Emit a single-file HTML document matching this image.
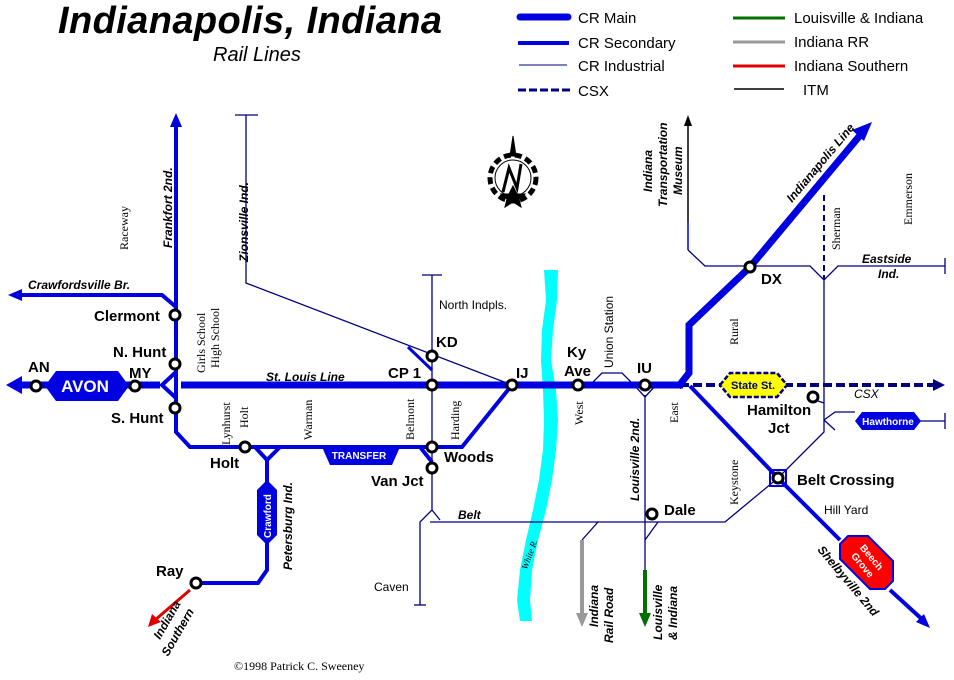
<!DOCTYPE html>
<html><head><meta charset="utf-8"><style>
html,body{margin:0;padding:0;background:#fff;}
svg{display:block;}
.st{font-family:"Liberation Sans",sans-serif;font-weight:bold;font-size:15px;fill:#000;}
.sr{font-family:"Liberation Serif",serif;font-size:12px;fill:#000;}
.bi{font-family:"Liberation Sans",sans-serif;font-weight:bold;font-style:italic;font-size:12px;fill:#000;}
.lg{font-family:"Liberation Sans",sans-serif;font-size:15px;fill:#000;}
.sm{font-family:"Liberation Sans",sans-serif;font-size:12px;fill:#000;}
</style></head><body>
<svg width="954" height="680" viewBox="0 0 954 680" xmlns="http://www.w3.org/2000/svg">
<rect width="954" height="680" fill="#fff"/>
<!-- title -->
<text x="58" y="33" font-family="Liberation Sans,sans-serif" font-weight="bold" font-style="italic" font-size="38" textLength="384">Indianapolis, Indiana</text>
<text x="213" y="61" font-family="Liberation Sans,sans-serif" font-style="italic" font-size="20">Rail Lines</text>
<!-- legend -->
<line x1="520" y1="17" x2="568" y2="17" stroke="#0000e0" stroke-width="7" stroke-linecap="round"/>
<line x1="518" y1="43" x2="569" y2="43" stroke="#0000e0" stroke-width="4"/>
<line x1="519" y1="65" x2="567" y2="65" stroke="#000080" stroke-width="1"/>
<line x1="518" y1="90" x2="570" y2="90" stroke="#000080" stroke-width="3" stroke-dasharray="8,3"/>
<text x="578" y="23" class="lg">CR Main</text>
<text x="578" y="48" class="lg">CR Secondary</text>
<text x="578" y="71" class="lg">CR Industrial</text>
<text x="578" y="96" class="lg">CSX</text>
<line x1="733" y1="18" x2="785" y2="18" stroke="#007000" stroke-width="3"/>
<line x1="733" y1="42" x2="785" y2="42" stroke="#999" stroke-width="3"/>
<line x1="733" y1="66" x2="785" y2="66" stroke="#e00000" stroke-width="3"/>
<line x1="734" y1="89" x2="784" y2="89" stroke="#000" stroke-width="1.5"/>
<text x="794" y="23" class="lg">Louisville &amp; Indiana</text>
<text x="794" y="47" class="lg">Indiana RR</text>
<text x="794" y="71" class="lg">Indiana Southern</text>
<text x="803" y="95" class="lg">ITM</text>
<!-- compass -->
<g transform="translate(513,178)" stroke="#000" fill="none">
<circle r="23" stroke-width="5" stroke-dasharray="7,4"/>
<circle r="18" stroke-width="1"/>
<polyline points="-10,14 -4,-10 4,10 8,-14" stroke-width="3"/>
<polygon points="0,-42 3,-22 -3,-22" fill="#000"/>
<polygon points="0,8 4,16 12,16 6,21 8,29 0,24 -8,29 -6,21 -12,16 -4,16" fill="#000"/>
</g>
<!-- river -->
<polygon points="544,270 558,270 557,300 553,330 551,360 556,390 558,420 556,450 552,480 546,510 538,540 532,570 530,600 532,621 520,621 517,600 520,570 526,540 533,510 539,480 543,450 544,420 543,390 541,360 542,330 546,300" fill="#00ffff"/>
<text transform="translate(527,570) rotate(-70)" font-family="Liberation Serif,serif" font-style="italic" font-size="9">White R.</text>
<!-- industrial lines -->
<g stroke="#000080" stroke-width="1.3" fill="none">
<polyline points="235,115 258,115"/>
<polyline points="246,115 246,283 512,385"/>
<polyline points="422,275 442,275"/>
<polyline points="432,275 432,510 420,522 420,605"/>
<line x1="414" y1="605" x2="426" y2="605"/>
<line x1="432" y1="510" x2="440" y2="520"/>
<polyline points="430,522 725,522 778,478"/>
<polyline points="582,540 598,522"/>
<polyline points="645,395 645,570"/>
<polyline points="645,540 658,522"/>
<polyline points="634,385 645,397 656,385"/>
<polyline points="590,385 602,373 622,373 634,385"/>
<polyline points="688,250 705,266 810,266 824,280 838,266 945,266"/>
<line x1="945" y1="258" x2="945" y2="274"/>
<polyline points="824,280 824,432 778,478"/>
<polyline points="824,420 835,412 855,412"/>
<polyline points="824,420 835,430"/>
<line x1="920" y1="421" x2="945" y2="421"/>
<line x1="945" y1="413" x2="945" y2="429"/>
<line x1="815" y1="400" x2="824" y2="403"/>
</g>
<!-- ITM -->
<line x1="688" y1="250" x2="688" y2="222" stroke="#0000e0" stroke-width="1.5"/>
<line x1="688" y1="222" x2="688" y2="125" stroke="#000" stroke-width="1.5"/>
<polygon points="688,115 684,126 692,126" fill="#000"/>
<!-- Sherman dashed -->
<line x1="824" y1="195" x2="824" y2="280" stroke="#000080" stroke-width="2" stroke-dasharray="6,4"/>
<!-- CSX -->
<line x1="680" y1="385" x2="935" y2="385" stroke="#000080" stroke-width="4" stroke-dasharray="9,4"/>
<polygon points="945,385 933,379 933,391" fill="#000080"/>
<!-- secondary lines -->
<g stroke="#0000e0" stroke-width="4" fill="none">
<polyline points="176,125 176,432 190,447 462,447 512,385"/>
<polyline points="176,307 162,295 20,295"/>
<polyline points="690,386 778,478 840,540"/>
<polyline points="890,590 925,622"/>
<polyline points="420,447 432,462"/>
<polyline points="255,447 267,460 280,447"/>
<polyline points="267,460 267,570 258,583 196,583"/>
<polyline points="176,372 162,385 176,398"/>
</g>
<polygon points="176,113 170,127 182,127" fill="#0000e0"/>
<polygon points="8,295 22,289 22,301" fill="#0000e0"/>
<polygon points="930,628 916,622 924,614" fill="#0000e0"/>
<!-- red indiana southern -->
<line x1="190" y1="590" x2="155" y2="620" stroke="#e00000" stroke-width="3"/>
<polygon points="148,627 152,614 161,622" fill="#e00000"/>
<!-- gray, green -->
<line x1="582" y1="540" x2="582" y2="615" stroke="#999" stroke-width="4"/>
<polygon points="582,627 576,613 588,613" fill="#999"/>
<line x1="645" y1="570" x2="645" y2="615" stroke="#007000" stroke-width="4"/>
<polygon points="645,627 639,613 651,613" fill="#007000"/>
<!-- main lines -->
<g stroke="#0000e0" stroke-width="7" fill="none">
<line x1="22" y1="385" x2="160" y2="385"/>
<line x1="181" y1="385" x2="683" y2="385"/>
<polyline points="678,387 689,373 689,325 750,267 862,133"/>
<line x1="408" y1="347" x2="432" y2="370" stroke-width="3"/>
</g>
<polygon points="872,122 852,130 864,141" fill="#0000e0"/>
<polygon points="6,385 22,376 22,394" fill="#0000e0"/>
<!-- AVON -->
<polygon points="45,386 56,371 118,371 129,386 118,401 56,401" fill="#0000e0"/>
<text x="85" y="392" text-anchor="middle" font-family="Liberation Sans,sans-serif" font-weight="bold" font-size="17" fill="#fff">AVON</text>
<!-- TRANSFER -->
<polygon points="322,447 400,447 392,465 330,465" fill="#0000e0"/>
<text x="359" y="459" text-anchor="middle" font-family="Liberation Sans,sans-serif" font-weight="bold" font-size="10" fill="#fff">TRANSFER</text>
<!-- Crawford -->
<polygon points="267,480 277,490 277,535 267,545 257,535 257,490" fill="#0000e0"/>
<text transform="translate(271,538) rotate(-90)" font-family="Liberation Sans,sans-serif" font-weight="bold" font-size="10" fill="#fff">Crawford</text>
<!-- State St -->
<polygon points="720,385 730,373 777,373 787,385 777,397 730,397" fill="#ffff00" stroke="#000080" stroke-width="2.5" stroke-dasharray="5,2"/>
<text x="753" y="389" text-anchor="middle" font-family="Liberation Sans,sans-serif" font-weight="bold" font-size="11" fill="#000080">State St.</text>
<!-- Hawthorne -->
<polygon points="855,421 862,412 914,412 921,421 914,430 862,430" fill="#0000e0"/>
<text x="888" y="425" text-anchor="middle" font-family="Liberation Sans,sans-serif" font-weight="bold" font-size="10" fill="#fff">Hawthorne</text>
<!-- Beech Grove -->
<polygon points="848,536 868,536 893,561 893,581 885,589 870,589 840,559 840,544" fill="#ff0000" stroke="#0000e0" stroke-width="2"/>
<text transform="translate(866,562) rotate(50)" text-anchor="middle" font-family="Liberation Sans,sans-serif" font-weight="bold" font-size="10" fill="#fff"><tspan x="0" dy="-4">Beech</tspan><tspan x="0" dy="12">Grove</tspan></text>
<!-- Belt crossing square -->
<rect x="770" y="470" width="16" height="16" fill="none" stroke="#0000e0" stroke-width="2"/>
<!-- stations -->
<g fill="#fff" stroke="#000" stroke-width="3">
<circle cx="36" cy="386" r="5"/><circle cx="135" cy="386" r="5"/>
<circle cx="175" cy="315" r="5"/><circle cx="175" cy="364" r="5"/><circle cx="175" cy="408" r="5"/>
<circle cx="245" cy="447" r="5"/><circle cx="432" cy="447" r="5"/><circle cx="432" cy="468" r="5"/>
<circle cx="432" cy="385" r="5"/><circle cx="432" cy="356" r="5"/><circle cx="512" cy="385" r="5"/>
<circle cx="578" cy="385" r="5"/><circle cx="645" cy="385" r="5"/><circle cx="750" cy="267" r="5"/>
<circle cx="813" cy="397" r="5"/><circle cx="778" cy="478" r="5"/><circle cx="652" cy="514" r="5"/>
<circle cx="196" cy="583" r="5"/>
</g>
<!-- station labels -->
<text x="28" y="372" class="st">AN</text>
<text x="129" y="378" class="st">MY</text>
<text x="94" y="321" class="st">Clermont</text>
<text x="113" y="357" class="st">N. Hunt</text>
<text x="111" y="423" class="st">S. Hunt</text>
<text x="210" y="468" class="st">Holt</text>
<text x="388" y="378" class="st">CP 1</text>
<text x="436" y="347" class="st">KD</text>
<text x="516" y="378" class="st">IJ</text>
<text x="567" y="357" class="st">Ky</text>
<text x="564" y="376" class="st">Ave</text>
<text x="637" y="373" class="st" font-size="17">IU</text>
<text x="444" y="462" class="st">Woods</text>
<text x="371" y="486" class="st">Van Jct</text>
<text x="761" y="284" class="st">DX</text>
<text x="747" y="415" class="st">Hamilton</text>
<text x="768" y="433" class="st">Jct</text>
<text x="797" y="485" class="st">Belt Crossing</text>
<text x="664" y="515" class="st">Dale</text>
<text x="156" y="576" class="st">Ray</text>
<!-- italic bold labels -->
<text x="28" y="289" class="bi">Crawfordsville Br.</text>
<text x="266" y="381" class="bi">St. Louis Line</text>
<text x="458" y="519" class="bi">Belt</text>
<text x="854" y="398" font-family="Liberation Sans,sans-serif" font-style="italic" font-size="12">CSX</text>
<text x="862" y="263" class="bi">Eastside</text>
<text x="878" y="278" class="bi">Ind.</text>
<text transform="translate(172,248) rotate(-90)" class="bi" font-size="13">Frankfort 2nd.</text>
<text transform="translate(248,262) rotate(-90)" class="bi">Zionsville Ind.</text>
<text transform="translate(292,570) rotate(-90)" class="bi">Petersburg Ind.</text>
<text transform="translate(639,501) rotate(-90)" class="bi">Louisville 2nd.</text>
<text transform="translate(652,192) rotate(-90)" class="bi">Indiana</text>
<text transform="translate(667,207) rotate(-90)" class="bi">Transportation</text>
<text transform="translate(682,195) rotate(-90)" class="bi">Museum</text>
<text transform="translate(792,203) rotate(-50)" class="bi">Indianapolis Line</text>
<text transform="translate(598,627) rotate(-90)" class="bi">Indiana</text>
<text transform="translate(613,643) rotate(-90)" class="bi">Rail Road</text>
<text transform="translate(662,640) rotate(-90)" class="bi">Louisville</text>
<text transform="translate(677,640) rotate(-90)" class="bi">&amp; Indiana</text>
<text transform="translate(160,640) rotate(-60)" class="bi">Indiana</text>
<text transform="translate(168,657) rotate(-60)" class="bi">Southern</text>
<text transform="translate(817,550) rotate(50)" class="bi">Shelbyville 2nd</text>
<!-- serif street labels -->
<text transform="translate(128,250) rotate(-90)" class="sr">Raceway</text>
<text transform="translate(205,373) rotate(-90)" class="sr">Girls School</text>
<text transform="translate(219,368) rotate(-90)" class="sr">High School</text>
<text transform="translate(230,445) rotate(-90)" class="sr">Lynhurst</text>
<text transform="translate(248,428) rotate(-90)" class="sr">Holt</text>
<text transform="translate(312,440) rotate(-90)" class="sr">Warman</text>
<text transform="translate(414,440) rotate(-90)" class="sr">Belmont</text>
<text transform="translate(459,440) rotate(-90)" class="sr">Harding</text>
<text transform="translate(583,425) rotate(-90)" class="sr">West</text>
<text transform="translate(678,423) rotate(-90)" class="sr">East</text>
<text transform="translate(738,345) rotate(-90)" class="sr">Rural</text>
<text transform="translate(738,505) rotate(-90)" class="sr">Keystone</text>
<text transform="translate(840,250) rotate(-90)" class="sr">Sherman</text>
<text transform="translate(912,225) rotate(-90)" class="sr">Emmerson</text>
<text transform="translate(613,368) rotate(-90)" class="sm">Union Station</text>
<text x="439" y="309" class="sm">North Indpls.</text>
<text x="374" y="591" class="sm">Caven</text>
<text x="824" y="514" class="sm">Hill Yard</text>
<text x="234" y="670" font-family="Liberation Serif,serif" font-size="12">©1998 Patrick C. Sweeney</text>
</svg>
</body></html>
